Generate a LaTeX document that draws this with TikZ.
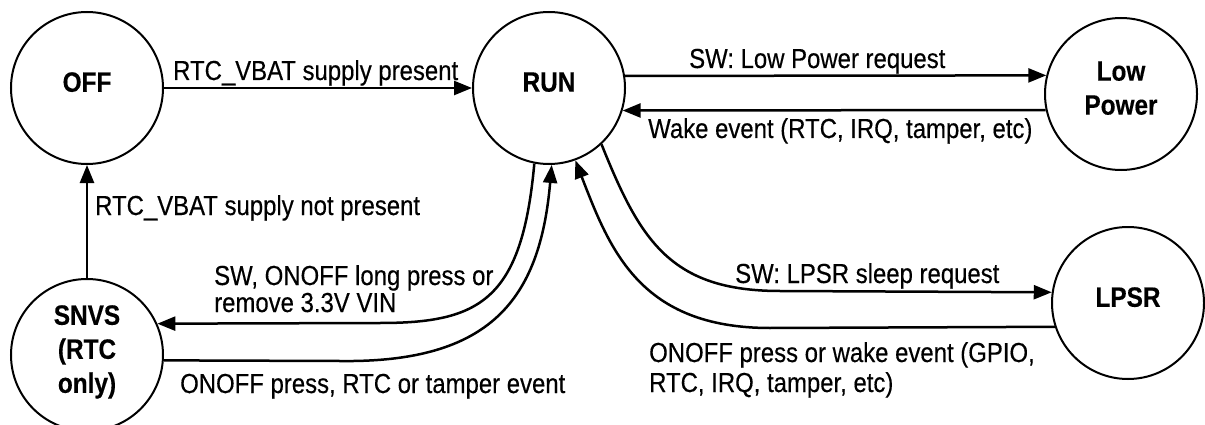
\documentclass[tikz,border=0pt]{standalone}
\usepackage{fontspec}
\setmainfont{Liberation Sans}[FakeStretch=0.87,FakeBold=0.35]
\usetikzlibrary{arrows.meta}
\begin{document}
\begin{tikzpicture}[x=1pt,y=-1pt,
  state/.style={circle,draw,line width=2pt,minimum size=152pt,inner sep=0pt,
    font=\fontsize{28}{34}\selectfont\bfseries,align=center,text depth=12pt},
  conn/.style={line width=2.5pt,-{Triangle[length=18pt,width=14pt]}},
  lbl/.style={font=\fontsize{27.5}{28}\selectfont,inner sep=0pt,anchor=base west,align=left}]
\fill[white] (0,0) rectangle (1205,425);
\useasboundingbox (0,0) rectangle (1205,425);

\node[state] (off) at (87,88) {OFF};
\node[state] (run) at (549,88) {RUN};
\node[state] (lp) at (1121,94) {Low\\Power};
\node[state] (snvs) at (87,355) {SNVS\\(RTC\\only)};
\node[state] (lpsr) at (1128,303) {LPSR};

\draw[conn] (off.east) -- (run.west);
\draw[conn] (run.9) -- (lp.166);
\draw[conn] (lp.192) -- (run.-17);
\draw[conn] (snvs.north) -- (off.south);
\draw[conn] (run.-101) .. controls (522,300) and (480,323) .. (380,323) -- (snvs.24);
\draw[conn] (snvs.-4) -- (340,361) .. controls (490,363) and (540,300) .. (run.-88);
\draw[conn] (run.-47) .. controls (640,240) and (670,291) .. (780,291) -- (lpsr.172);
\draw[conn] (lpsr.198) -- (770,328) .. controls (640,328) and (610,250) .. (run.-70);

\node[lbl] (l1) at (173,80) {RTC\_VBAT supply present};
\node[lbl] (l2) at (689,68) {SW: Low Power request};
\node[lbl] (l3) at (648,138) {Wake event (RTC, IRQ, tamper, etc)};
\node[lbl] (l4) at (95,215) {RTC\_VBAT supply not present};
\node[lbl,font=\fontsize{27.5}{27}\selectfont] (l5) at (214,312) {SW, ONOFF long press or\\remove 3.3V VIN};
\node[lbl] (l6) at (180,393) {ONOFF press, RTC or tamper event};
\node[lbl] (l7) at (735,283) {SW: LPSR sleep request};
\node[lbl,font=\fontsize{27.5}{30}\selectfont] (l8) at (649,392) {ONOFF press or wake event (GPIO,\\RTC, IRQ, tamper, etc)};
\end{tikzpicture}
\end{document}
